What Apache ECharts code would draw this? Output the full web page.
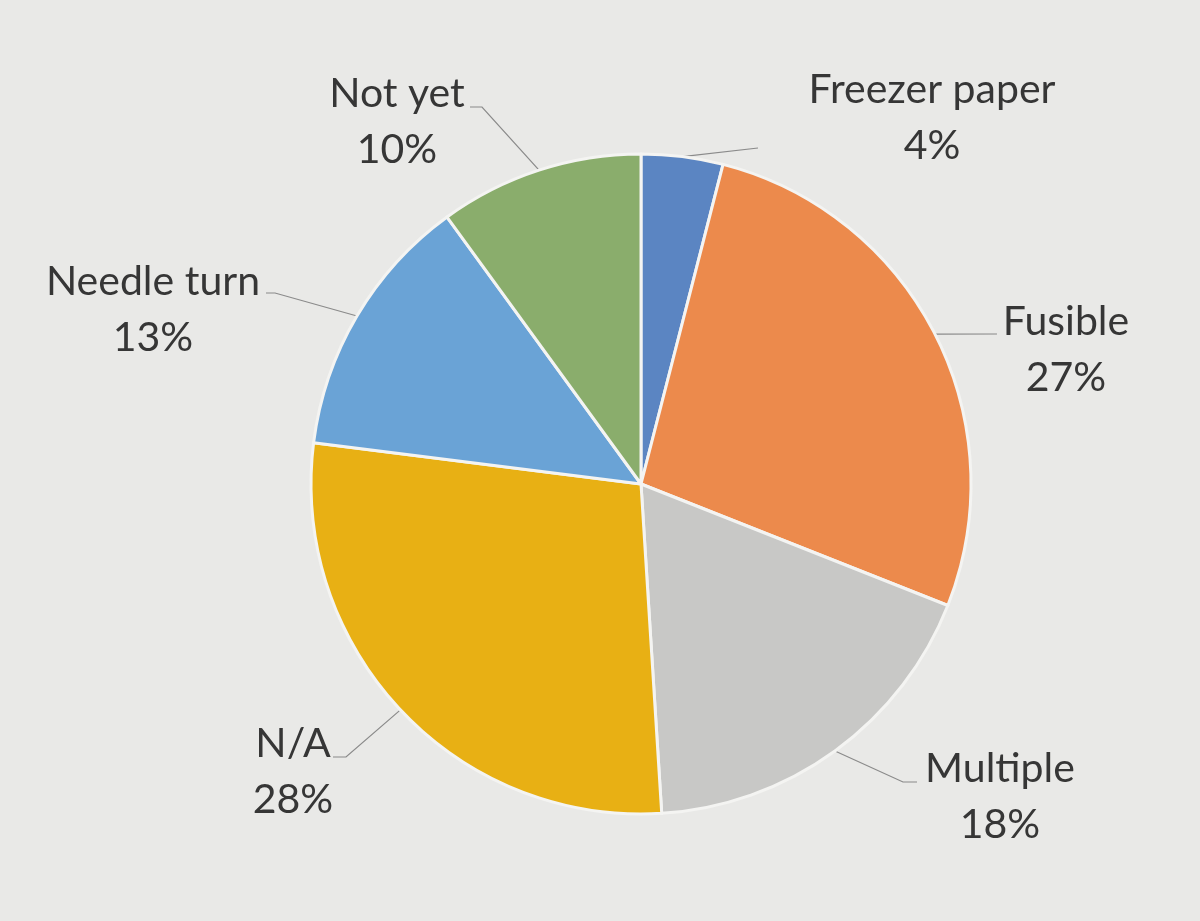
<!DOCTYPE html>
<html>
<head>
<meta charset="utf-8">
<script src="https://cdn.jsdelivr.net/npm/echarts@6/dist/echarts.min.js"></script>
<style>
html,body{margin:0;padding:0;background:#e9e9e7;}
#chart{width:1200px;height:921px;}
</style>
</head>
<body>
<div id="chart"></div>
<script>
const categories = ['Freezer paper', 'Fusible', 'Multiple', 'N/A', 'Needle turn', 'Not yet'];
const percents = [4, 27, 18, 28, 13, 10];
const colors = ['#5b85c2', '#ec8a4c', '#c8c8c6', '#e8b014', '#6aa3d6', '#8aad6c'];

// label placement (layout only): label centre and leader-line bend/end points
const labelPlace = [
  {c: [932, 118], pts: [[758, 148], [758, 148]]},
  {c: [1066, 350], pts: [[997, 334], [997, 334]]},
  {c: [1000, 797], pts: [[903, 782], [917, 782]]},
  {c: [293, 772], pts: [[346, 757], [333, 757]]},
  {c: [153, 310], pts: [[275, 293], [266, 293]]},
  {c: [397, 122], pts: [[482, 107], [470, 107]]}
];

const chart = echarts.init(document.getElementById('chart'), null, {renderer: 'canvas'});
chart.setOption({
  backgroundColor: '#e9e9e7',
  animation: false,
  series: [{
    type: 'pie',
    center: [641, 484],
    radius: [0, 330],
    startAngle: 90,
    clockwise: true,
    data: categories.map((n, i) => ({name: n, value: percents[i], itemStyle: {color: colors[i]}})),
    itemStyle: {borderColor: '#f4f4f2', borderWidth: 3},
    label: {
      show: true,
      formatter: '{b}\n{c}%',
      fontFamily: 'Lato',
      fontSize: 41,
      lineHeight: 56,
      color: '#363636',
      align: 'center'
    },
    labelLine: {show: true, lineStyle: {color: '#8a8a8a', width: 1.2}},
    labelLayout: function (params) {
      const p = labelPlace[params.dataIndex];
      const start = params.labelLinePoints ? params.labelLinePoints[0] : p.pts[0];
      return {
        x: p.c[0],
        y: p.c[1],
        align: 'center',
        verticalAlign: 'middle',
        labelLinePoints: [start, p.pts[0], p.pts[1]]
      };
    }
  }]
});
</script>
</body>
</html>
